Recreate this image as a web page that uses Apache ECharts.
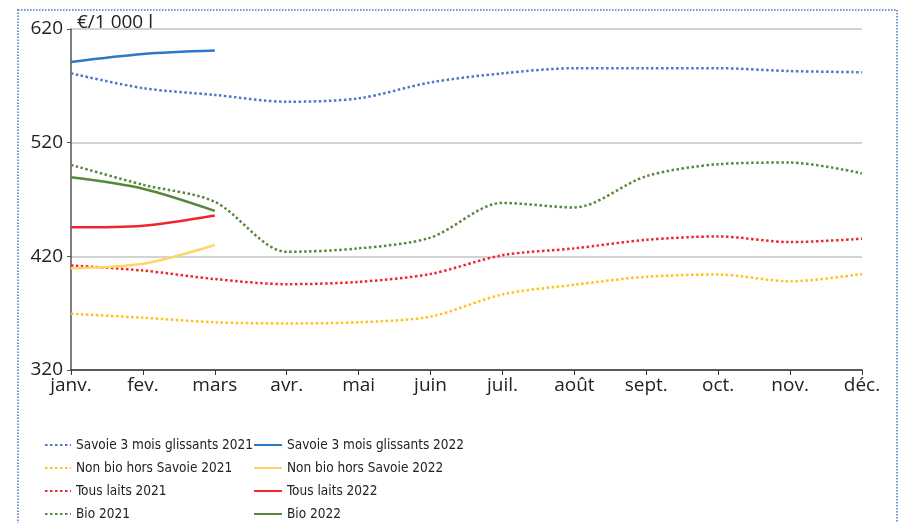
<!DOCTYPE html>
<html>
<head>
<meta charset="utf-8">
<script src="https://cdn.jsdelivr.net/npm/echarts@6/dist/echarts.min.js"></script>
<style>
html, body { margin: 0; padding: 0; background: #fff; }
#container { width: 907px; height: 523px; }
</style>
</head>
<body>
<div id="container"></div>
<script>
var months = ['janv.', 'fev.', 'mars', 'avr.', 'mai', 'juin', 'juil.', 'août', 'sept.', 'oct.', 'nov.', 'déc.'];

var savoie2021 = [581, 568, 562, 556, 559, 573, 581, 585.5, 585.5, 585.5, 583, 582];
var savoie2022 = [591, 598, 601];
var nonBio2021 = [369.5, 366, 362, 361, 362, 367, 386.5, 395, 402, 404, 398, 404.5];
var nonBio2022 = [409.5, 413.5, 430];
var tous2021 = [412, 407.5, 400, 395.5, 397.5, 404.5, 421, 427, 434.5, 437.5, 432.5, 435.5];
var tous2022 = [445.5, 447, 456];
var bio2021 = [500.5, 483, 468, 424, 427, 436.5, 467, 463, 490.5, 501, 502.5, 493];
var bio2022 = [489.5, 479.5, 460];

var yTicks = [320, 420, 520, 620];

var dom = document.getElementById('container');
var myChart = echarts.init(dom);

function line(name, data, color, dotted) {
    return {
        name: name,
        type: 'line',
        data: data,
        symbol: 'none',
        smooth: 0.3,
        lineStyle: { color: color, width: 2.5, type: dotted ? [2.5, 2.5] : 'solid' },
        itemStyle: { color: color }
    };
}

var legendText = { fontFamily: 'DejaVu Sans Condensed', fontSize: 13.5, color: '#222' };

option = {
    animation: false,
    grid: { left: 71, right: 45, top: 29, bottom: 153 },
    graphic: [
        {
            type: 'rect',
            shape: { x: 18, y: 10, width: 879, height: 530 },
            style: { fill: 'none', stroke: '#4a74c9', lineWidth: 1.5, lineDash: [1.5, 1.5] }
        },
        {
            type: 'text',
            left: 77, top: 13,
            style: { text: '€/1 000 l', font: '19px "Open Sans"', fill: '#222' }
        }
    ],
    legend: [
        {
            orient: 'vertical', left: 44, top: 438, height: 150, padding: 0,
            itemWidth: 26, itemHeight: 12, itemGap: 9,
            itemStyle: { opacity: 0 },
            textStyle: legendText,
            data: ['Savoie 3 mois glissants 2021', 'Non bio hors Savoie 2021', 'Tous laits 2021', 'Bio 2021']
        },
        {
            orient: 'vertical', left: 253, top: 438, height: 150, padding: 0,
            itemWidth: 28, itemHeight: 12, itemGap: 9,
            itemStyle: { opacity: 0 },
            textStyle: legendText,
            data: ['Savoie 3 mois glissants 2022', 'Non bio hors Savoie 2022', 'Tous laits 2022', 'Bio 2022']
        }
    ],
    xAxis: {
        type: 'category',
        boundaryGap: false,
        data: months,
        axisLine: { lineStyle: { color: '#333', width: 1.5 } },
        axisTick: { show: true, length: 5, lineStyle: { color: '#333' } },
        axisLabel: { fontFamily: 'Open Sans', fontSize: 19, color: '#222', margin: 6, interval: 0 },
        splitLine: { show: false }
    },
    yAxis: {
        type: 'value',
        min: yTicks[0],
        max: yTicks[yTicks.length - 1],
        interval: 100,
        axisLine: { show: true, lineStyle: { color: '#555', width: 1.5 } },
        axisTick: { show: true, length: 4, lineStyle: { color: '#555' } },
        axisLabel: { fontFamily: 'Open Sans', fontSize: 19, color: '#222', margin: 8 },
        splitLine: { lineStyle: { color: '#c4c4c4', width: 1.5 } }
    },
    series: [
        line('Savoie 3 mois glissants 2021', savoie2021, '#4a78c8', true),
        line('Non bio hors Savoie 2021', nonBio2021, '#ffc21a', true),
        line('Tous laits 2021', tous2021, '#f0262e', true),
        line('Bio 2021', bio2021, '#56883a', true),
        line('Savoie 3 mois glissants 2022', savoie2022, '#2a7bc4', false),
        line('Non bio hors Savoie 2022', nonBio2022, '#ffd666', false),
        line('Tous laits 2022', tous2022, '#f0262e', false),
        line('Bio 2022', bio2022, '#56883a', false)
    ]
};

if (option && typeof option === 'object') {
    myChart.setOption(option, true);
}
</script>
</body>
</html>
